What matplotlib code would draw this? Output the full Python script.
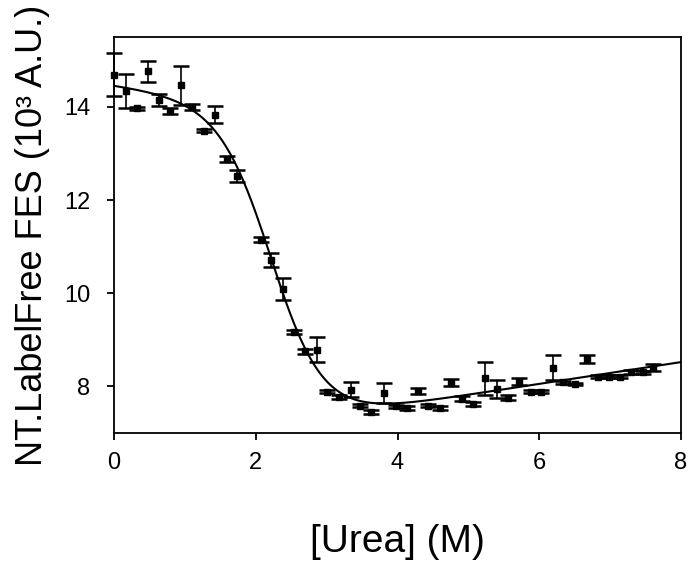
import numpy as np
import matplotlib
matplotlib.use("Agg")
import matplotlib.pyplot as plt

plt.rcParams['font.family'] = ['Liberation Sans', 'DejaVu Sans']

# measured points (urea M, signal in 10^3 A.U., error)
urea = [0.00, 0.17, 0.33, 0.48, 0.64, 0.79, 0.95, 1.10, 1.27, 1.42, 1.59, 1.74,
        2.07, 2.22, 2.38, 2.54, 2.69, 2.86, 3.01, 3.17, 3.34, 3.47, 3.62, 3.81,
        3.98, 4.13, 4.29, 4.43, 4.60, 4.76, 4.91, 5.07, 5.23, 5.40, 5.56, 5.72,
        5.89, 6.03, 6.19, 6.34, 6.50, 6.67, 6.83, 6.99, 7.14, 7.30, 7.46, 7.61]
fes = [14.69, 14.34, 13.97, 14.76, 14.14, 13.91, 14.46, 14.00, 13.49, 13.83, 12.88, 12.52,
       11.15, 10.72, 10.09, 9.17, 8.75, 8.79, 7.89, 7.77, 7.93, 7.59, 7.45, 7.86,
       7.57, 7.53, 7.90, 7.59, 7.54, 8.08, 7.74, 7.63, 8.17, 7.95, 7.76, 8.10,
       7.89, 7.89, 8.40, 8.09, 8.05, 8.59, 8.21, 8.21, 8.21, 8.31, 8.30, 8.41]
err = [0.46, 0.36, 0.03, 0.23, 0.13, 0.06, 0.41, 0.06, 0.03, 0.18, 0.06, 0.13,
       0.05, 0.15, 0.23, 0.05, 0.05, 0.27, 0.04, 0.04, 0.16, 0.04, 0.04, 0.21,
       0.04, 0.04, 0.06, 0.04, 0.04, 0.08, 0.05, 0.04, 0.35, 0.19, 0.05, 0.08,
       0.04, 0.04, 0.27, 0.03, 0.03, 0.08, 0.03, 0.03, 0.04, 0.04, 0.04, 0.08]

# two-state fit with linear baselines
yN, mN = 14.47, -0.20   # native baseline
yU, mU = 6.65, 0.234    # unfolded baseline
m_val, c_mid = 2.7, 2.25

xfit = np.linspace(0, 8, 400)
f_nat = 1.0 / (1.0 + np.exp(m_val * (xfit - c_mid)))
yfit = f_nat * (yN + mN * xfit) + (1 - f_nat) * (yU + mU * xfit)

fig = plt.figure(figsize=(6.89, 5.61), dpi=100)
ax = fig.add_axes([114 / 689, 128 / 561, 567 / 689, 396 / 561])

ax.plot(xfit, yfit, color='black', lw=1.5, zorder=2)
ax.errorbar(urea, fes, yerr=err, fmt='s', color='black', ms=5, elinewidth=1.2,
            capsize=5.5, capthick=1.8, zorder=3, clip_on=False)

ax.set_xlim(0, 8)
ax.set_ylim(7, 15.5)
ax.set_xticks([0, 2, 4, 6, 8])
ax.set_yticks([8, 10, 12, 14])
for sp in ax.spines.values():
    sp.set_linewidth(1.3)
ax.tick_params(direction='out', length=5, width=1.3, labelsize=17)
ax.tick_params(axis='x', pad=9)
ax.tick_params(axis='y', pad=12)

ax.set_xlabel('[Urea] (M)', fontsize=28, labelpad=36)
ax.set_ylabel('NT.LabelFree FES (10³ A.U.)', fontsize=26, labelpad=10)

fig.savefig('out.png', dpi=100)
